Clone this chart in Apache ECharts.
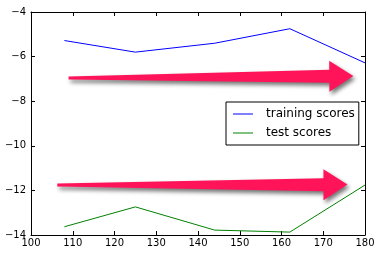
<!DOCTYPE html>
<html>
<head>
<meta charset="utf-8">
<script src="https://cdn.jsdelivr.net/npm/echarts@6/dist/echarts.min.js"></script>
<style>html,body{margin:0;padding:0;background:#fff}#c{width:381px;height:256px}</style>
</head>
<body>
<div id="c"></div>
<script>
var xValues = [108, 125, 144, 162, 180];
var trainingScores = [-5.28, -5.80, -5.40, -4.75, -6.28];
var testScores = [-13.63, -12.74, -13.78, -13.87, -11.76];
// arrows: [tailX, tailY, tipX, tipY]
var arrows = [[109.0, -6.96, 177.2, -6.87], [106.3, -11.76, 175.8, -11.74]];
var seriesNames = ['training scores', 'test scores'];

var minus = function (v) { return String(v).replace('-', '\u2212'); };
var font = 'DejaVu Sans';
var chart = echarts.init(document.getElementById('c'), null, {renderer: 'canvas'});
function pairs(xs, ys) { return xs.map(function (x, i) { return [x, ys[i]]; }); }
var tickStyle = {show: true, inside: true, length: 4, lineStyle: {color: '#000', width: 1}};
var lineStyle = {show: true, lineStyle: {color: '#000', width: 1}};
chart.setOption({
  animation: false,
  grid: {left: 31, right: 16, top: 12, bottom: 21, containLabel: false},
  xAxis: [
    {type: 'value', min: 100, max: 180, interval: 10, position: 'bottom',
     axisLine: lineStyle, axisTick: tickStyle, splitLine: {show: false},
     axisLabel: {color: '#000', fontFamily: font, fontSize: 10, margin: 3, formatter: minus}},
    {type: 'value', min: 100, max: 180, interval: 10, position: 'top',
     axisLine: lineStyle, axisTick: tickStyle, splitLine: {show: false}, axisLabel: {show: false}}
  ],
  yAxis: [
    {type: 'value', min: -14, max: -4, interval: 2, position: 'left',
     axisLine: lineStyle, axisTick: tickStyle, splitLine: {show: false},
     axisLabel: {color: '#000', fontFamily: font, fontSize: 10, margin: 5, formatter: minus}},
    {type: 'value', min: -14, max: -4, interval: 2, position: 'right',
     axisLine: lineStyle, axisTick: tickStyle, splitLine: {show: false}, axisLabel: {show: false}}
  ],
  legend: {
    data: seriesNames,
    orient: 'vertical', left: 226, top: 102,
    icon: 'rect',
    backgroundColor: '#fff', borderColor: '#000', borderWidth: 1, borderRadius: 0,
    padding: [6, 4, 6, 7], itemGap: 7, itemWidth: 20, itemHeight: 1,
    textStyle: {color: '#000', fontFamily: font, fontSize: 12, padding: [0, 0, 0, 8]}
  },
  series: [
    {name: seriesNames[0], type: 'line', data: pairs(xValues, trainingScores), symbol: 'none',
     lineStyle: {color: '#0000ff', width: 1}, itemStyle: {color: '#0000ff'}, z: 3},
    {name: seriesNames[1], type: 'line', data: pairs(xValues, testScores), symbol: 'none',
     lineStyle: {color: '#008000', width: 1}, itemStyle: {color: '#008000'}, z: 3},
    {type: 'custom', data: arrows, z: 4, silent: true,
     renderItem: function (params, api) {
       var t = api.coord([api.value(0), api.value(1)]);
       var p = api.coord([api.value(2), api.value(3)]);
       var dx = p[0] - t[0], dy = p[1] - t[1];
       var L = Math.sqrt(dx * dx + dy * dy);
       var ux = dx / L, uy = dy / L, nx = -uy, ny = ux;
       var headLen = 24, w0 = 1.5, w1 = 6.5, hw = 15.5;
       var b = [p[0] - ux * headLen, p[1] - uy * headLen];
       var pts = [
         [t[0] + nx * w0, t[1] + ny * w0],
         [b[0] + nx * w1, b[1] + ny * w1],
         [b[0] + nx * hw, b[1] + ny * hw],
         [p[0], p[1]],
         [b[0] - nx * hw, b[1] - ny * hw],
         [b[0] - nx * w1, b[1] - ny * w1],
         [t[0] - nx * w0, t[1] - ny * w0]
       ];
       return {type: 'polygon', shape: {points: pts},
         style: {fill: '#ff1459', shadowBlur: 4, shadowColor: 'rgba(0,0,0,0.55)', shadowOffsetX: 2, shadowOffsetY: 3}};
     }}
  ]
});
</script>
</body>
</html>
